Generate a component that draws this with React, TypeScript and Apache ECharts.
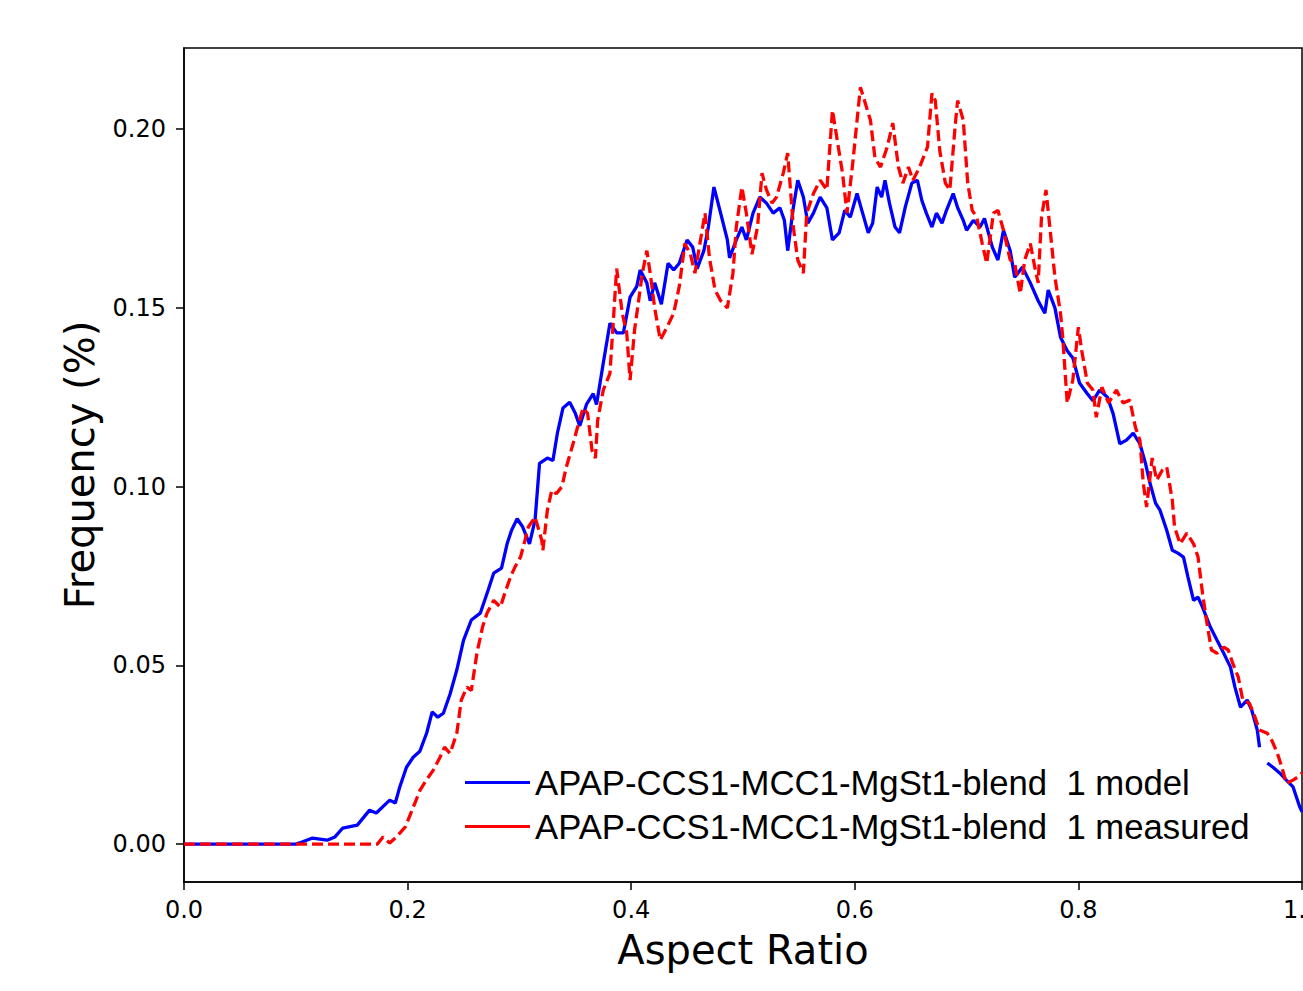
import React, { useEffect, useRef } from "react";
import * as echarts from "echarts";

// Aspect ratio vs frequency (%) — model curve
const modelPoints: [number, number | null][] = [
  [0, 0], [0.1, 0], [0.105, 0.0005], [0.115, 0.0017], [0.128, 0.0011], [0.135, 0.002], [0.142, 0.0045],
  [0.155, 0.0053], [0.166, 0.0095], [0.172, 0.0087], [0.184, 0.0123], [0.189, 0.0115], [0.193, 0.016],
  [0.199, 0.0215], [0.205, 0.0243], [0.211, 0.026], [0.217, 0.031], [0.222, 0.037], [0.227, 0.0355],
  [0.232, 0.0366], [0.238, 0.042], [0.244, 0.0487], [0.25, 0.057], [0.257, 0.0627], [0.265, 0.0646],
  [0.272, 0.071], [0.277, 0.0758], [0.284, 0.0772], [0.289, 0.084], [0.293, 0.0878], [0.298, 0.091],
  [0.303, 0.0887], [0.309, 0.084], [0.314, 0.0906], [0.318, 0.1065], [0.325, 0.108], [0.33, 0.1073],
  [0.334, 0.115], [0.339, 0.122], [0.345, 0.1236], [0.35, 0.1205], [0.354, 0.117], [0.36, 0.123],
  [0.366, 0.126], [0.369, 0.123], [0.375, 0.1345], [0.381, 0.1457], [0.387, 0.143], [0.393, 0.143],
  [0.399, 0.153], [0.405, 0.156], [0.408, 0.1606], [0.414, 0.157], [0.417, 0.152], [0.421, 0.157],
  [0.427, 0.151], [0.433, 0.1625], [0.438, 0.1606], [0.443, 0.1625], [0.45, 0.169], [0.455, 0.167],
  [0.459, 0.161], [0.465, 0.166], [0.469, 0.1726], [0.474, 0.1838], [0.48, 0.1765], [0.486, 0.169],
  [0.488, 0.164], [0.494, 0.169], [0.499, 0.1726], [0.503, 0.169], [0.509, 0.1765], [0.515, 0.181],
  [0.521, 0.1793], [0.527, 0.1765], [0.533, 0.178], [0.537, 0.1745], [0.54, 0.166], [0.545, 0.178],
  [0.549, 0.1857], [0.554, 0.181], [0.558, 0.1737], [0.563, 0.1765], [0.569, 0.181], [0.575, 0.178],
  [0.58, 0.169], [0.586, 0.171], [0.591, 0.1773], [0.596, 0.1754], [0.602, 0.182], [0.607, 0.1765],
  [0.612, 0.171], [0.616, 0.1737], [0.62, 0.1838], [0.624, 0.181], [0.627, 0.1857], [0.631, 0.1793],
  [0.636, 0.1726], [0.64, 0.171], [0.645, 0.178], [0.651, 0.1849], [0.656, 0.1857], [0.66, 0.18],
  [0.664, 0.1765], [0.669, 0.1726], [0.673, 0.1765], [0.678, 0.1737], [0.682, 0.1773], [0.688, 0.182],
  [0.692, 0.178], [0.697, 0.1745], [0.7, 0.1717], [0.706, 0.1745], [0.712, 0.1726], [0.716, 0.175],
  [0.723, 0.167], [0.728, 0.1634], [0.733, 0.1717], [0.739, 0.166], [0.743, 0.1586], [0.75, 0.1614],
  [0.757, 0.157], [0.764, 0.152], [0.77, 0.1485], [0.773, 0.155], [0.779, 0.15], [0.784, 0.1418],
  [0.79, 0.138], [0.795, 0.136], [0.801, 0.129], [0.808, 0.126], [0.813, 0.124], [0.819, 0.127],
  [0.826, 0.125], [0.831, 0.1205], [0.837, 0.112], [0.843, 0.113], [0.849, 0.115], [0.855, 0.112],
  [0.86, 0.1065], [0.864, 0.101], [0.869, 0.0954], [0.873, 0.0934], [0.879, 0.0878], [0.884, 0.0822],
  [0.889, 0.0814], [0.894, 0.0803], [0.898, 0.0747], [0.903, 0.0682], [0.907, 0.0691], [0.911, 0.0663],
  [0.918, 0.0607], [0.924, 0.057], [0.93, 0.0534], [0.936, 0.0495], [0.94, 0.0439], [0.945, 0.0383],
  [0.951, 0.0403], [0.955, 0.0375], [0.96, 0.0319], [0.962, 0.0271], [0.965, null], [0.969, 0.0227],
  [0.974, 0.0215], [0.98, 0.0199], [0.986, 0.0179], [0.992, 0.016], [0.998, 0.0104], [1.0, 0.009],
];

// measured curve
const measuredPoints: [number, number][] = [
  [0, 0], [0.173, 0], [0.178, 0.002], [0.184, 0.0003], [0.19, 0.002], [0.198, 0.0048], [0.204, 0.0095],
  [0.211, 0.015], [0.217, 0.018], [0.223, 0.0207], [0.229, 0.0243], [0.233, 0.0271], [0.238, 0.0254],
  [0.244, 0.031], [0.248, 0.0403], [0.253, 0.0439], [0.257, 0.043], [0.262, 0.0534], [0.267, 0.0607],
  [0.271, 0.0646], [0.277, 0.0682], [0.283, 0.0663], [0.287, 0.0702], [0.292, 0.0747], [0.296, 0.0775],
  [0.301, 0.0803], [0.305, 0.085], [0.308, 0.0887], [0.314, 0.0915], [0.32, 0.085], [0.321, 0.0822],
  [0.325, 0.0934], [0.329, 0.099], [0.333, 0.098], [0.338, 0.1], [0.342, 0.1055], [0.348, 0.112],
  [0.352, 0.1166], [0.357, 0.122], [0.361, 0.1205], [0.365, 0.11], [0.368, 0.108], [0.37, 0.1186],
  [0.375, 0.127], [0.381, 0.1317], [0.387, 0.161], [0.392, 0.1485], [0.396, 0.143], [0.399, 0.1298],
  [0.403, 0.1438], [0.41, 0.1597], [0.414, 0.166], [0.417, 0.1597], [0.421, 0.15], [0.426, 0.141],
  [0.432, 0.1446], [0.438, 0.1485], [0.443, 0.156], [0.448, 0.168], [0.453, 0.165], [0.457, 0.1597],
  [0.462, 0.169], [0.466, 0.1765], [0.47, 0.164], [0.475, 0.155], [0.48, 0.152], [0.486, 0.15],
  [0.491, 0.1597], [0.494, 0.1726], [0.499, 0.1838], [0.503, 0.1765], [0.508, 0.165], [0.513, 0.1726],
  [0.517, 0.1877], [0.521, 0.183], [0.526, 0.1793], [0.53, 0.181], [0.536, 0.1877], [0.54, 0.1933],
  [0.545, 0.1726], [0.549, 0.1634], [0.554, 0.1597], [0.557, 0.1765], [0.563, 0.182], [0.569, 0.1857],
  [0.575, 0.183], [0.58, 0.2053], [0.589, 0.1877], [0.593, 0.1765], [0.598, 0.19], [0.605, 0.2117],
  [0.614, 0.2025], [0.618, 0.192], [0.623, 0.1894], [0.629, 0.195], [0.634, 0.2017], [0.639, 0.1894],
  [0.643, 0.1849], [0.648, 0.1894], [0.652, 0.1857], [0.658, 0.1894], [0.665, 0.195], [0.669, 0.21],
  [0.672, 0.208], [0.676, 0.194], [0.681, 0.1849], [0.685, 0.183], [0.69, 0.2017], [0.692, 0.208],
  [0.697, 0.2025], [0.701, 0.1849], [0.705, 0.1773], [0.709, 0.1754], [0.714, 0.168], [0.718, 0.1625],
  [0.724, 0.1765], [0.728, 0.1773], [0.733, 0.1717], [0.739, 0.1634], [0.743, 0.1625], [0.748, 0.154],
  [0.752, 0.1634], [0.757, 0.168], [0.761, 0.1614], [0.764, 0.157], [0.767, 0.1754], [0.771, 0.183],
  [0.775, 0.171], [0.779, 0.1586], [0.784, 0.1485], [0.786, 0.1418], [0.79, 0.1234], [0.795, 0.1298],
  [0.8, 0.1446], [0.803, 0.138], [0.808, 0.129], [0.813, 0.127], [0.816, 0.1194], [0.821, 0.1278],
  [0.827, 0.1234], [0.834, 0.127], [0.84, 0.1234], [0.846, 0.1242], [0.851, 0.1166], [0.855, 0.113],
  [0.858, 0.101], [0.861, 0.0943], [0.866, 0.108], [0.87, 0.1018], [0.875, 0.1046], [0.879, 0.1055],
  [0.884, 0.0962], [0.886, 0.0887], [0.891, 0.084], [0.897, 0.087], [0.903, 0.084], [0.907, 0.0803],
  [0.911, 0.0702], [0.915, 0.0618], [0.919, 0.0543], [0.924, 0.0534], [0.93, 0.0551], [0.934, 0.0543],
  [0.938, 0.0506], [0.943, 0.0467], [0.947, 0.0403], [0.953, 0.0394], [0.958, 0.0355], [0.962, 0.0319],
  [0.969, 0.031], [0.973, 0.029], [0.978, 0.0254], [0.982, 0.0215], [0.986, 0.017], [0.992, 0.0179],
  [0.996, 0.0187], [1.0, 0.0199],
];

const seriesNames = [
  "APAP-CCS1-MCC1-MgSt1-blend  1 model",
  "APAP-CCS1-MCC1-MgSt1-blend  1 measured",
];
const yTicks = [0, 0.05, 0.1, 0.15, 0.2];
const xTicks = [0, 0.2, 0.4, 0.6, 0.8, 1.0];

export default function App() {
  const ref = useRef<HTMLDivElement>(null);
  useEffect(() => {
    if (!ref.current) return;
    const chart = echarts.init(ref.current, null, { renderer: "svg" });
    const tickFont = { fontFamily: "DejaVu Sans", fontSize: 24, color: "#000" };
    chart.setOption({
      animation: false,
      backgroundColor: "#fff",
      grid: {
        left: 184, right: 1, top: 48, bottom: 109,
        outerBoundsMode: "none", containLabel: false,
        show: true, borderColor: "#000", borderWidth: 1.5, backgroundColor: "transparent",
      },
      legend: {
        left: 460, top: 760, orient: "vertical",
        icon: "rect", itemWidth: 65, itemHeight: 3, itemGap: 9,
        textStyle: { fontFamily: "Liberation Sans", fontSize: 34.7, color: "#000", lineHeight: 34 },
        data: seriesNames,
      },
      xAxis: {
        type: "value", min: 0, max: 1, interval: 0.2,
        name: "Aspect Ratio", nameLocation: "middle", nameGap: 48,
        nameTextStyle: { fontFamily: "DejaVu Sans", fontSize: 40, color: "#000" },
        axisLine: { show: true, onZero: false, lineStyle: { color: "#000", width: 1.5 } },
        axisTick: { show: true, inside: false, length: 8, lineStyle: { color: "#000", width: 1.5 } },
        axisLabel: { ...tickFont, margin: 16, formatter: (v: number) => v.toFixed(1), customValues: xTicks },
        splitLine: { show: false },
      },
      yAxis: {
        type: "value", min: -0.0106, max: 0.2227,
        name: "Frequency (%)", nameLocation: "middle", nameGap: 84, nameRotate: 90,
        nameTextStyle: { fontFamily: "DejaVu Sans", fontSize: 40, color: "#000" },
        axisLine: { show: true, onZero: false, lineStyle: { color: "#000", width: 1.5 } },
        axisTick: { show: true, inside: false, length: 8, lineStyle: { color: "#000", width: 1.5 }, customValues: yTicks },
        axisLabel: { ...tickFont, margin: 18, formatter: (v: number) => v.toFixed(2), customValues: yTicks },
        splitLine: { show: false },
      },
      series: [
        {
          name: seriesNames[0], type: "line", showSymbol: false, symbol: "none",
          color: "#0000ff",
          lineStyle: { color: "#0000ff", width: 3.3 },
          data: modelPoints.map(([x, y]) => [x, y === null ? "-" : y]),
          connectNulls: false,
        },
        {
          name: seriesNames[1], type: "line", showSymbol: false, symbol: "none",
          color: "#ff0000",
          lineStyle: { color: "#ff0000", width: 3.3, type: [11, 5] },
          data: measuredPoints,
        },
      ],
    });
    return () => chart.dispose();
  }, []);
  return (
    <div
      ref={ref}
      style={{ position: "fixed", left: 0, top: 0, width: 1303, height: 991, background: "#fff" }}
    />
  );
}
